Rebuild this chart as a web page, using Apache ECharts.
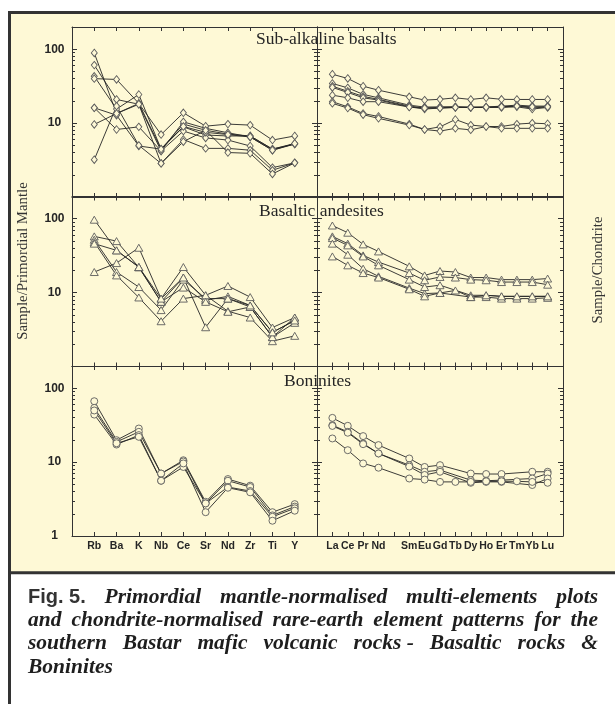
<!DOCTYPE html>
<html>
<head>
<meta charset="utf-8">
<script src="https://cdn.jsdelivr.net/npm/echarts@6/dist/echarts.min.js"></script>
<style>
  html, body { margin: 0; padding: 0; background: #ffffff; }
  #chart { width: 615px; height: 704px; }
</style>
</head>
<body>
<div id="chart"></div>
<script>
// Element order on the horizontal axes
const traceElements = ['Rb', 'Ba', 'K', 'Nb', 'Ce', 'Sr', 'Nd', 'Zr', 'Ti', 'Y'];
// Rare-earth elements; the Pm slot keeps its tick but has no label or data
const reeElements = ['La', 'Ce', 'Pr', 'Nd', '', 'Sm', 'Eu', 'Gd', 'Tb', 'Dy', 'Ho', 'Er', 'Tm', 'Yb', 'Lu'];

// Log-axis ticks
const yMajorTicks = [1, 10, 100];
const yMinorTicks = [2, 3, 4, 5, 6, 7, 8, 9, 20, 30, 40, 50, 60, 70, 80, 90];

const panelTitles = ['Sub-alkaline basalts', 'Basaltic andesites', 'Boninites'];

// Sub-alkaline basalts: sample / primordial mantle
const subAlkalineTrace = [
  [89, 13.5, 18.5, 4.45, 9.7, 8.0, 7.1, 6.7, 4.45, 5.3],
  [61, 20.9, 18.0, 4.2, 10.4, 8.5, 7.4, 6.5, 4.3, 5.2],
  [43, 15.5, 24.4, 4.45, 8.9, 6.9, 6.7, 6.7, 4.45, 5.2],
  [40, 39, 18.5, 7.0, 13.8, 9.1, 9.7, 9.4, 5.9, 6.7],
  [16.1, 8.2, 8.9, 4.2, 7.8, 6.3, 5.9, 4.9, 2.5, 2.9],
  [16.1, 12.8, 4.9, 4.45, 9.0, 7.5, 7.0, 6.5, 4.3, 5.3],
  [9.6, 13.5, 18.0, 2.85, 6.0, 4.55, 4.55, 4.3, 2.3, 2.9],
  [3.2, 17, 5.0, 2.85, 5.6, 8.0, 4.0, 3.9, 2.05, 2.9]
];
// Sub-alkaline basalts: sample / chondrite
const subAlkalineRee = [
  [45.9, 40.2, 31.6, 27.9, null, 22.7, 20.5, 21.0, 22.0, 20.9, 22.0, 21.0, 20.9, 20.9, 20.9],
  [34.4, 30, 24.5, 22, null, 17.5, 16.5, 16.6, 16.6, 16.5, 16.5, 17, 17.5, 17, 17],
  [31.6, 27, 23, 21, null, 17, 16, 16.3, 16.6, 16.3, 16.3, 16.6, 17, 16, 16.6],
  [30.4, 26, 22, 20.5, null, 16.6, 15.5, 16, 16.3, 16.3, 16.3, 16.3, 16.6, 15.5, 16.3],
  [23.9, 22, 19.5, 19.5, null, 16.5, 16, 16, 16.3, 16.3, 16.5, 16.6, 17, 16.6, 16.6],
  [19.5, 16.6, 13.5, 12.3, null, 9.7, 8.2, 8.9, 11.2, 9.4, 9.0, 9.0, 9.7, 10.0, 9.8],
  [18.5, 16.0, 13.0, 11.6, null, 9.4, 8.2, 7.8, 8.5, 8.1, 9.0, 8.5, 8.5, 8.5, 8.5]
];

// Basaltic andesites
const andesiteTrace = [
  [97, 37.3, 22.2, 8.3, 22.2, 9.2, 12.3, 8.7, 3.37, 4.6],
  [57.7, 49.8, 22.0, 7.5, 16.0, 7.9, 8.9, 6.7, 2.9, 4.2],
  [52, 19, 11.9, 5.8, 15, 8.3, 8.3, 6.4, 2.5, 3.9],
  [48.3, 17.1, 8.6, 4.1, 8.3, 9.2, 5.6, 4.6, 2.2, 2.6],
  [46, 37.3, 22.2, 7.5, 11.7, 7.5, 5.5, 6.4, 2.5, 4.6],
  [19, 25.1, 40.5, 8.3, 16, 3.4, 8.3, 6.7, 2.9, 4.2]
];
const andesiteRee = [
  [81, 64.7, 45, 36.1, null, 22.7, 17.1, 19.6, 19, 16, 16, 15, 15, 15, 15.5],
  [57.7, 46, 31.9, 25.9, null, 18.4, 14.7, 16.3, 16, 15, 14.7, 13.9, 13.9, 13.9, 12.8],
  [54.7, 43.6, 30.9, 23.4, null, 15, 11.9, 12.6, null, 9.2, 9.2, 8.9, 8.9, 8.9, 8.9],
  [46, 32.6, 21.1, 16.6, null, 11.5, 9.7, 9.9, 10.7, 8.7, 8.7, 8.3, 8.3, 8.3, 8.5],
  [30.9, 23.4, 18.4, 16, null, 11.1, 8.9, 9.9, null, 8.7, 9.2, 8.9, 8.9, 8.9, 8.9]
];

// Boninites
const boniniteTrace = [
  [66.7, 19.8, 28.5, 7.0, 10.6, 2.9, 5.9, 4.8, 2.1, 2.7],
  [54.2, 18.8, 25.7, 7.0, 10.2, 2.76, 5.6, 4.6, 1.9, 2.5],
  [44, 17.3, 23.2, 5.6, 8.6, 2.76, 4.6, 4.06, 1.82, 2.37],
  [50, 18, 22, 5.6, 9.6, 2.1, 4.5, 3.9, 1.61, 2.2]
];
const boniniteRee = [
  [39.7, 31, 22.5, 17, null, 11.2, 8.6, 9.1, null, 7.0, 6.9, 6.9, null, 7.4, 7.4],
  [31.6, 25.7, 17.9, 13.1, null, 9.1, 7.4, 7.8, null, 5.7, 5.6, 5.7, null, 6.0, 7.0],
  [30.9, 25.0, 17.5, 13.1, null, 8.7, 6.7, 7.4, null, 5.25, 5.4, 5.4, null, 4.9, 6.0],
  [20.9, 14.5, 9.6, 8.4, null, 6.0, 5.8, 5.4, 5.4, 5.4, 5.5, 5.5, 5.5, 5.4, 5.25]
];

const captionLines = [
  ['Fig. 5.', 'Primordial', 'mantle-normalised', 'multi-elements', 'plots'],
  ['and', 'chondrite-normalised', 'rare-earth', 'element', 'patterns', 'for', 'the'],
  ['southern', 'Bastar', 'mafic', 'volcanic', 'rocks -', 'Basaltic', 'rocks', '&'],
  ['Boninites']
];

// ---- styling and layout ----
const CREAM = '#fef9d6';
const INK = '#262626';
const FRAME = '#333333';
const SANS = "'Liberation Sans', Arial, sans-serif";
const SERIF = "'Liberation Serif', 'Times New Roman', serif";

const panelTops = [27, 196.5, 366];
const panelHeight = 170;
const columns = [
  { left: 72, width: 245, names: traceElements },
  { left: 317, width: 246, names: reeElements }
];
const rows = [
  { trace: subAlkalineTrace, ree: subAlkalineRee, symbol: 'diamond', size: [6, 7.5] },
  { trace: andesiteTrace, ree: andesiteRee, symbol: 'triangle', size: [8, 7] },
  { trace: boniniteTrace, ree: boniniteRee, symbol: 'circle', size: 7 }
];

const grid = [], xAxis = [], yAxis = [], series = [];

rows.forEach((row, r) => {
  columns.forEach((col, c) => {
    const g = grid.length;
    grid.push({ left: col.left, top: panelTops[r], width: col.width, height: panelHeight });

    const tickVals = col.names.map((_, i) => i);
    const line = { show: true, onZero: false, lineStyle: { color: FRAME, width: 1 } };
    const xBase = {
      type: 'value', gridIndex: g, min: -1, max: col.names.length,
      splitLine: { show: false }, axisLine: line,
      axisTick: { show: true, inside: true, length: 4, customValues: tickVals, lineStyle: { color: FRAME, width: 1 } }
    };
    xAxis.push(Object.assign({}, xBase, {
      position: 'bottom',
      axisLabel: r === 2 ? {
        show: true, customValues: tickVals, formatter: v => col.names[v] || '',
        fontFamily: SANS, fontWeight: 'bold', fontSize: 10.5, color: INK, margin: 5
      } : { show: false }
    }));
    xAxis.push(Object.assign({}, xBase, { position: 'top', axisLabel: { show: false } }));

    const yBase = {
      type: 'log', logBase: 10, gridIndex: g, min: 1, max: 200,
      splitLine: { show: false }, axisLabel: { show: false }
    };
    const major = { show: true, inside: true, length: 5, customValues: yMajorTicks, lineStyle: { color: FRAME, width: 1 } };
    const minor = { show: true, inside: true, length: 3, customValues: yMinorTicks, lineStyle: { color: FRAME, width: 1 } };
    const yIndex = yAxis.length;
    yAxis.push(Object.assign({}, yBase, {
      position: 'left', axisLine: line, axisTick: major,
      axisLabel: c === 0 ? {
        show: true, customValues: r === 2 ? yMajorTicks : yMajorTicks.filter(v => v > 1),
        fontFamily: SANS, fontWeight: 'bold', fontSize: 12, color: INK, align: 'center', margin: 17.5
      } : { show: false }
    }));
    yAxis.push(Object.assign({}, yBase, { position: 'left', axisLine: { show: false, onZero: false }, axisTick: minor }));
    yAxis.push(Object.assign({}, yBase, { position: 'right', axisLine: line, axisTick: major }));
    yAxis.push(Object.assign({}, yBase, { position: 'right', axisLine: { show: false, onZero: false }, axisTick: minor }));

    const samples = c === 0 ? row.trace : row.ree;
    samples.forEach(values => {
      series.push({
        type: 'line', xAxisIndex: g * 2, yAxisIndex: yIndex,
        data: values.map((v, i) => [i, v]).filter(p => p[1] != null),
        symbol: row.symbol, symbolSize: row.size, showSymbol: true,
        lineStyle: { color: INK, width: 0.9 },
        itemStyle: { color: CREAM, borderColor: '#5c5c5c', borderWidth: 0.9 },
        emphasis: { disabled: true }, silent: true, z: 3
      });
    });
  });
});

// ---- frame, titles and caption ----
const graphic = [
  { type: 'rect', z: -100, shape: { x: 9.5, y: 12.5, width: 700, height: 560.3 },
    style: { fill: CREAM, stroke: FRAME, lineWidth: 3 } },
  { type: 'line', z: -100, shape: { x1: 9.5, y1: 572, x2: 9.5, y2: 710 },
    style: { stroke: FRAME, lineWidth: 3 } }
];

const titlePos = [[256, 39], [259, 211.5], [284, 381]];
panelTitles.forEach((t, i) => {
  graphic.push({ type: 'text', z: 50, x: titlePos[i][0], y: titlePos[i][1],
    style: { text: t, fontFamily: SERIF, fontSize: 17.5, fill: INK, align: 'left', verticalAlign: 'middle' } });
});

graphic.push({ type: 'text', z: 50, x: 23, y: 261, rotation: Math.PI / 2,
  style: { text: 'Sample/Primordial Mantle', fontFamily: SERIF, fontSize: 14.8, fill: '#333', align: 'center', verticalAlign: 'middle' } });
graphic.push({ type: 'text', z: 50, x: 598, y: 270, rotation: Math.PI / 2,
  style: { text: 'Sample/Chondrite', fontFamily: SERIF, fontSize: 14.7, fill: '#333', align: 'center', verticalAlign: 'middle' } });

// Justified caption: words are measured and spread across the column
const measureCtx = document.createElement('canvas').getContext('2d');
const capFont = { fontFamily: SERIF, fontStyle: 'italic', fontWeight: 'bold', fontSize: 21.5 };
const figFont = { fontFamily: SANS, fontWeight: 'bold', fontSize: 20 };
function cssFont(f) { return (f.fontStyle || 'normal') + ' ' + f.fontWeight + ' ' + f.fontSize + 'px ' + f.fontFamily; }
function widthOf(text, f) { measureCtx.font = cssFont(f); return measureCtx.measureText(text).width; }

const capLeft = 28, capRight = 598, capY = [597, 620.3, 643.6, 667];
captionLines.forEach((words, li) => {
  const fonts = words.map((w, wi) => (li === 0 && wi === 0) ? figFont : capFont);
  const widths = words.map((w, wi) => widthOf(w, fonts[wi]));
  const total = widths.reduce((a, b) => a + b, 0);
  const last = li === captionLines.length - 1;
  const gap = (last || words.length < 2) ? widthOf(' ', capFont) : (capRight - capLeft - total) / (words.length - 1);
  let x = capLeft;
  words.forEach((w, wi) => {
    graphic.push({ type: 'text', z: 50, x: x, y: capY[li],
      style: Object.assign({ text: w, fill: (li === 0 && wi === 0) ? '#333' : '#1e1e1e', align: 'left', verticalAlign: 'middle' }, fonts[wi]) });
    x += widths[wi] + gap;
  });
});

const chart = echarts.init(document.getElementById('chart'), null, { renderer: 'canvas' });
chart.setOption({
  backgroundColor: '#ffffff',
  animation: false,
  grid: grid,
  xAxis: xAxis,
  yAxis: yAxis,
  series: series,
  graphic: graphic
});
</script>
</body>
</html>
